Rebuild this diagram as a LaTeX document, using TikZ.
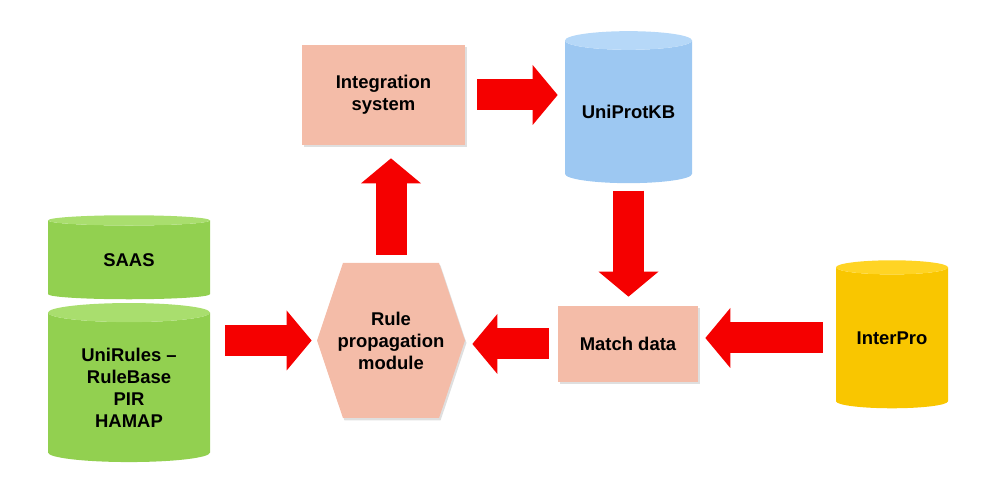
\documentclass[tikz,border=0pt]{standalone}
\usepackage{fontspec}
\setmainfont{Liberation Sans}
\usetikzlibrary{positioning, shapes, arrows.meta, shadows}

\definecolor{boxpink}{HTML}{F4BCA8}
\definecolor{dbgreen}{HTML}{92D050}
\definecolor{dbgreentop}{HTML}{A9DE6E}
\definecolor{dbblue}{HTML}{9DC8F2}
\definecolor{dbbluetop}{HTML}{B6D8F8}
\definecolor{dbyellow}{HTML}{F9C600}
\definecolor{dbyellowtop}{HTML}{FFD424}
\definecolor{arrowred}{HTML}{F50000}

\begin{document}
\begin{tikzpicture}[
        font=\fontsize{10.5}{12.5}\selectfont\bfseries,
        procbox/.style={rectangle, fill=boxpink, inner sep=0pt, align=center,
            drop shadow={opacity=0.25, shadow xshift=0.03cm, shadow yshift=-0.05cm}},
        dbase/.style={cylinder, shape border rotate=90, inner sep=0pt, align=center,
            cylinder uses custom fill, aspect=0.2},
        fatarrow/.style={draw=arrowred, line width=0.62cm,
            -{Triangle[length=0.5cm, width=1.2cm, line width=0pt]}}
    ]
    \useasboundingbox (0, 0) rectangle (19.96, 9.7);

    \node[procbox, minimum width=3.26cm, minimum height=2cm] (integ) at (7.67, 7.8) {Integration\\system};
    \node[dbase, cylinder body fill=dbblue, cylinder end fill=dbbluetop, minimum width=2.54cm, minimum height=3.04cm] (uniprot) at (12.57, 7.46) {UniProtKB};
    \node[dbase, cylinder body fill=dbgreen, cylinder end fill=dbgreentop, minimum width=3.24cm, minimum height=1.68cm] (saas) at (2.58, 4.5) {SAAS};
    \node[dbase, cylinder body fill=dbgreen, cylinder end fill=dbgreentop, minimum width=3.24cm, minimum height=3.18cm] (unirules) at (2.58, 1.95) {UniRules --\\RuleBase\\PIR\\HAMAP};
    \node[signal, signal to=east and west, signal pointer angle=143, fill=boxpink, inner sep=0pt,
        minimum width=2.96cm, minimum height=3.1cm,
        drop shadow={opacity=0.25, shadow xshift=0.03cm, shadow yshift=-0.05cm},
        label={[align=center]center:Rule\\propagation\\module}] (rule) at (7.82, 2.89) {};
    \node[procbox, minimum width=2.8cm, minimum height=1.52cm] (match) at (12.56, 2.82) {Match data};
    \node[dbase, cylinder body fill=dbyellow, cylinder end fill=dbyellowtop, minimum width=2.24cm, minimum height=2.96cm] (interpro) at (17.84, 2.94) {InterPro};

    \draw[fatarrow, shorten <=0.24cm, shorten >=0.14cm] (integ.east) -- (integ.east -| uniprot.west);
    \draw[fatarrow, shorten <=0.16cm, shorten >=0.26cm] (rule.north) -- (rule.north |- integ.south);
    \draw[fatarrow, shorten <=0.14cm, shorten >=0.18cm] (uniprot.south) -- (uniprot.south |- match.north);
    \draw[fatarrow, shorten <=0.18cm, shorten >=0.14cm] (match.west) -- (match.west -| rule.east);
    \draw[fatarrow, shorten <=0.26cm, shorten >=0.14cm] (interpro.west) -- (interpro.west -| match.east);
    \draw[fatarrow, shorten <=0.3cm, shorten >=0.1cm] (rule.west -| unirules.east) -- (rule.west);
\end{tikzpicture}
\end{document}
